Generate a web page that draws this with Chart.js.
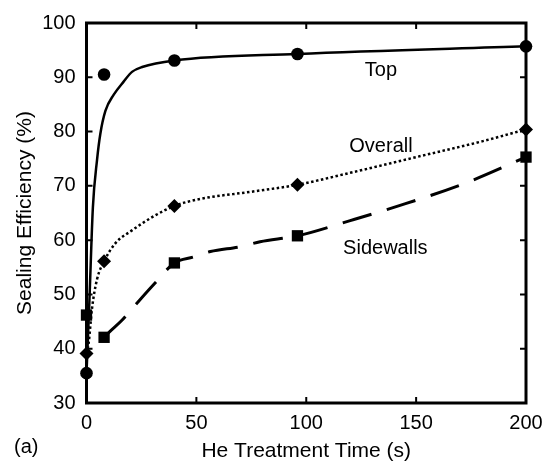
<!DOCTYPE html>
<html>
<head>
<meta charset="utf-8">
<script src="https://cdn.jsdelivr.net/npm/chart.js@4.4.1/dist/chart.umd.min.js"></script>
<style>
  body { margin: 0; background: #fff; }
  canvas { display: block; }
</style>
</head>
<body>
<canvas id="chart" width="551" height="462"></canvas>
<script>
// measured points
const timeS = [0, 8, 40, 96, 200];
const topPct = [35.5, 90.5, 93.1, 94.3, 95.7];
const overallPct = [39.1, 56.1, 66.3, 70.2, 80.4];
const sidewallPct = [46.2, 42.1, 55.8, 60.8, 75.3];

// fitted curves
const topFitTime = [0, 1.3, 2.9, 4.8, 6.3, 8.6, 12.4, 16.9, 20.7, 25.3, 40, 96, 200];
const topFitPct = [35.5, 48.6, 66, 74.8, 79.6, 83.8, 86.8, 89.2, 91.0, 91.9, 93.1, 94.3, 95.7];
const overallFitTime = [0, 1, 2.5, 4.8, 8, 13.1, 20.7, 30.6, 40, 51.8, 74.7, 96, 120, 150, 180, 200];
const overallFitPct = [39.1, 41.1, 47.4, 52.8, 56.1, 59.4, 61.8, 64.4, 66.3, 67.6, 68.9, 70.2, 72.4, 75.3, 78.2, 80.4];
const sidewallFitTime = [8, 10.7, 16, 22.1, 31.2, 40, 48.7, 56.4, 70, 79, 96, 120, 142.7, 173, 200];
const sidewallFitPct = [42.1, 43.2, 45.2, 48.0, 52.1, 55.8, 56.9, 57.9, 58.8, 59.7, 60.8, 63.6, 66.4, 70.6, 75.3];

const xTicks = [0, 50, 100, 150, 200];
const yTicks = [30, 40, 50, 60, 70, 80, 90, 100];

const labels = [
  { text: "Top", x: 134, y: 90.15 },
  { text: "Overall", x: 134, y: 76.3 },
  { text: "Sidewalls", x: 136, y: 57.5 },
];

const FONT = '"Liberation Sans", Arial, Helvetica, sans-serif';

const pts = (xs, ys) => xs.map((x, i) => ({ x: x, y: ys[i] }));

function fitLine(xs, ys, dash, width) {
  return {
    data: pts(xs, ys),
    showLine: true,
    borderColor: "#000",
    borderWidth: width,
    borderDash: dash,
    pointRadius: 0,
    cubicInterpolationMode: "monotone",
    clip: false,
  };
}

function markers(ys, style, r) {
  return {
    data: pts(timeS, ys),
    showLine: false,
    pointStyle: style,
    pointRadius: r,
    backgroundColor: "#000",
    borderColor: "#000",
    borderWidth: 0,
    clip: false,
  };
}

const frame = {
  id: "frame",
  beforeDatasetsDraw(chart) {
    const { ctx, chartArea: a, scales } = chart;
    ctx.save();
    ctx.strokeStyle = "#000";
    ctx.lineWidth = 3;
    ctx.strokeRect(a.left, a.top, a.right - a.left, a.bottom - a.top);
    ctx.lineWidth = 2;
    ctx.beginPath();
    xTicks.slice(1, -1).forEach((v) => {
      const px = scales.x.getPixelForValue(v);
      ctx.moveTo(px, a.bottom); ctx.lineTo(px, a.bottom - 6);
      ctx.moveTo(px, a.top); ctx.lineTo(px, a.top + 6);
    });
    yTicks.slice(1, -1).forEach((v) => {
      const py = scales.y.getPixelForValue(v);
      ctx.moveTo(a.left, py); ctx.lineTo(a.left + 6, py);
      ctx.moveTo(a.right, py); ctx.lineTo(a.right - 6, py);
    });
    ctx.stroke();
    ctx.restore();
  },
  afterDraw(chart) {
    const { ctx, chartArea: a, scales } = chart;
    ctx.save();
    ctx.fillStyle = "#000";
    ctx.textBaseline = "alphabetic";
    ctx.font = "20px " + FONT;
    ctx.textAlign = "center";
    labels.forEach((l) => {
      ctx.fillText(l.text, scales.x.getPixelForValue(l.x), scales.y.getPixelForValue(l.y));
    });
    ctx.font = "21px " + FONT;
    ctx.fillText("He Treatment Time (s)", (a.left + a.right) / 2, 456.5);
    ctx.save();
    ctx.translate(30.5, (a.top + a.bottom) / 2);
    ctx.rotate(-Math.PI / 2);
    ctx.fillText("Sealing Efficiency (%)", 0, 0);
    ctx.restore();
    ctx.font = "20px " + FONT;
    ctx.textAlign = "left";
    ctx.fillText("(a)", 14, 453);
    ctx.restore();
  },
};

new Chart(document.getElementById("chart"), {
  type: "scatter",
  data: {
    datasets: [
      fitLine(topFitTime, topFitPct, [], 2.5),
      fitLine(overallFitTime, overallFitPct, [2.5, 2.5], 2.5),
      fitLine(sidewallFitTime, sidewallFitPct, [30, 16], 3),
      markers(topPct, "circle", 6.3),
      markers(overallPct, "rectRot", 7),
      markers(sidewallPct, "rect", 8),
    ],
  },
  options: {
    responsive: false,
    animation: false,
    devicePixelRatio: 1,
    layout: { padding: { top: 15.5, right: 25, left: 0, bottom: 0 } },
    plugins: { legend: { display: false }, tooltip: { enabled: false } },
    scales: {
      x: {
        type: "linear",
        min: 0,
        max: 200,
        afterFit: (s) => { s.height = 59; },
        afterBuildTicks: (s) => { s.ticks = xTicks.map((v) => ({ value: v })); },
        grid: { display: false, drawTicks: false },
        border: { display: false },
        ticks: { color: "#000", padding: 8, maxRotation: 0, font: { family: FONT, size: 20 } },
      },
      y: {
        min: 30,
        max: 100,
        afterFit: (s) => { s.width = 86.5; },
        afterBuildTicks: (s) => { s.ticks = yTicks.map((v) => ({ value: v })); },
        grid: { display: false, drawTicks: false },
        border: { display: false },
        ticks: { color: "#000", padding: 11, font: { family: FONT, size: 20 } },
      },
    },
  },
  plugins: [frame],
});
</script>
</body>
</html>
